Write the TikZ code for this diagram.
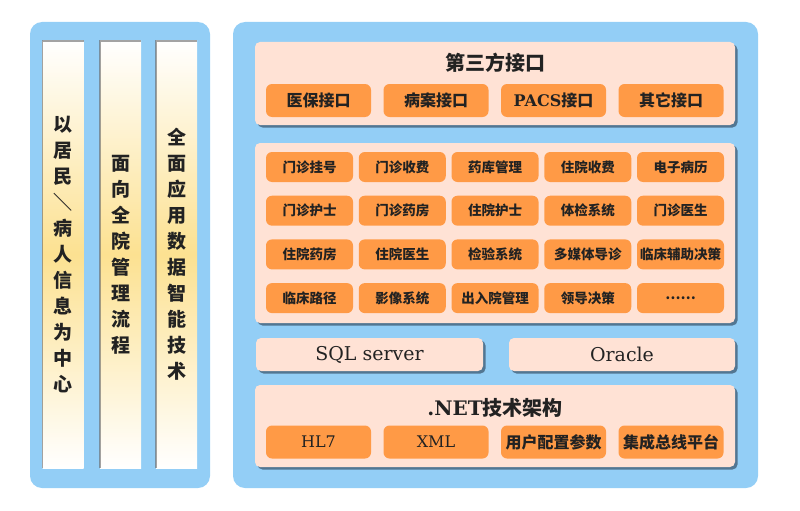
\documentclass[tikz,border=0pt]{standalone}
\usepackage{fontspec}
\setmainfont{DejaVu Serif}
\newfontfamily\cjk{Noto Sans CJK SC}
\usetikzlibrary{shadows}
\definecolor{skyblue}{RGB}{147,206,246}
\definecolor{peach}{RGB}{255,226,213}
\definecolor{tangerine}{RGB}{255,154,70}
\definecolor{cream}{RGB}{252,225,145}
\definecolor{ink}{RGB}{34,34,34}
\definecolor{shade}{RGB}{40,60,80}
\newcommand\lat[1]{{\rmfamily\mdseries #1}}
\newcommand\latb[1]{{\rmfamily\bfseries #1}}

\begin{document}
\begin{tikzpicture}[x=1pt,y=-1pt,
  frame/.style={fill=skyblue,rounded corners=12pt,inner sep=0pt},
  layer/.style={fill=peach,rounded corners=5pt,inner sep=0pt,minimum width=480pt,text=ink,
    drop shadow={shadow xshift=2.5pt,shadow yshift=-2.5pt,fill=shade,opacity=.6}},
  tag/.style={fill=tangerine,rounded corners=6pt,inner sep=0pt,text=ink,
    minimum width=105pt,minimum height=33pt,font=\cjk\bfseries\fontsize{16}{16}\selectfont},
  module/.style={tag,minimum width=87pt,minimum height=30pt,font=\cjk\bfseries\fontsize{13.5}{13.5}\selectfont},
  pillar/.style={inner sep=0pt,minimum width=41pt,minimum height=427pt,
    top color=white,bottom color=white,middle color=cream},
  groove/.style={draw=black!60,line width=1.5pt,opacity=.6},
  caption/.style={text=ink,font=\cjk\bfseries\fontsize{20}{20}\selectfont},
  vtext/.style={text=ink,align=center,font=\cjk\bfseries\fontsize{19}{26}\selectfont}]
\useasboundingbox (0,0) rectangle (800,511);

\node[frame,minimum width=180pt,minimum height=466pt] (left) at (120,255) {};
\node[frame,minimum width=525pt,minimum height=466pt] (right) at (495.5,255) {};

\foreach \x/\n in {63/p1,120.5/p2,176.5/p3} {
  \node[pillar] (\n) at (\x,254.5) {};
  \draw[groove] (\n.south west) -- (\n.north west) -- (\n.north east);
}
\node[vtext] (t1) at (p1) {以\\居\\民\\＼\\病\\人\\信\\息\\为\\中\\心};
\node[vtext] (t2) at (p2) {面\\向\\全\\院\\管\\理\\流\\程};
\node[vtext] (t3) at (p3) {全\\面\\应\\用\\数\\据\\智\\能\\技\\术};

\node[layer,minimum height=83pt] (api) at (495,83.5) {};
\node[caption] (apit) at (495,63) {第三方接口};
\foreach \t [count=\i] in {医保接口,病案接口,\latb{PACS}接口,其它接口}
  \node[tag] (api\i) at ({318.5+117.5*(\i-1)},100.5) {\t};

\node[layer,minimum height=180pt] (mods) at (495,233) {};
\foreach \row [count=\j] in {{门诊挂号,门诊收费,药库管理,住院收费,电子病历},
    {门诊护士,门诊药房,住院护士,体检系统,门诊医生},
    {住院药房,住院医生,检验系统,多媒体导诊,临床辅助决策},
    {临床路径,影像系统,出入院管理,领导决策,……}} {
  \foreach \t [count=\i] in \row
    \node[module] (m\j\i) at ({309.5+92.75*(\i-1)},{167+43.7*(\j-1)}) {\t};
}

\node[layer,minimum width=227pt,minimum height=33pt,font=\fontsize{19}{19}\selectfont] (sql) at (369.5,354.5) {SQL server};
\node[layer,minimum width=226pt,minimum height=33pt,font=\fontsize{19}{19}\selectfont] (ora) at (622,354.5) {Oracle};

\node[layer,minimum height=82pt] (net) at (495,426) {};
\node[caption] (nett) at (495,408) {\latb{.NET}技术架构};
\foreach \t [count=\i] in {\lat{HL7},\lat{XML},用户配置参数,集成总线平台}
  \node[tag] (net\i) at ({318.5+117.5*(\i-1)},442) {\t};
\end{tikzpicture}
\end{document}
